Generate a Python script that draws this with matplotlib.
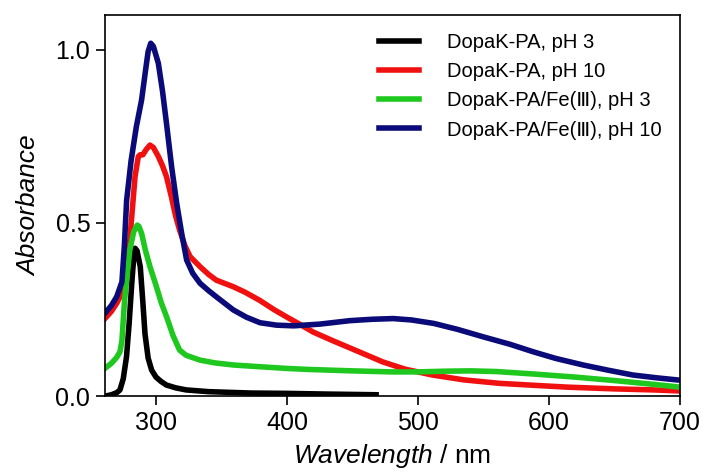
import matplotlib
matplotlib.use("Agg")
import matplotlib.pyplot as plt

plt.rcParams['font.family'] = ['Liberation Sans', 'DejaVu Sans']
plt.rcParams['mathtext.fontset'] = 'custom'
plt.rcParams['mathtext.rm'] = 'Liberation Sans'
plt.rcParams['mathtext.it'] = 'Liberation Sans:italic'

# DopaK-PA, pH 3
wl_k3 = [261, 266, 270, 272.5, 275, 277.5, 279.5, 281.5, 283, 284, 285.5, 288,
         290, 291.6, 294, 296.7, 300, 304, 308, 315, 323, 340, 372, 400, 430,
         450, 468]
abs_k3 = [0.0, 0.004, 0.01, 0.018, 0.05, 0.114, 0.21, 0.326, 0.40, 0.427,
          0.42, 0.374, 0.27, 0.18, 0.11, 0.075, 0.055, 0.042, 0.032, 0.024,
          0.018, 0.013, 0.009, 0.008, 0.006, 0.005, 0.004]

# DopaK-PA, pH 10
wl_k10 = [261, 266, 270, 272.5, 276, 280, 284, 286.5, 288, 290, 292.5, 295.4,
          298, 301.8, 305, 308, 311.8, 315, 318, 322, 326, 333.6, 340, 346,
          359, 368, 379, 390, 400, 410, 420, 435, 455, 473, 490, 511, 535, 562,
          590, 614, 650, 680, 700]
abs_k10 = [0.224, 0.245, 0.268, 0.287, 0.326, 0.45, 0.634, 0.692, 0.697, 0.697,
           0.712, 0.725, 0.718, 0.692, 0.665, 0.634, 0.575, 0.52, 0.48, 0.435,
           0.403, 0.374, 0.352, 0.335, 0.316, 0.3, 0.277, 0.25, 0.228, 0.207,
           0.185, 0.16, 0.128, 0.099, 0.078, 0.061, 0.047, 0.037, 0.031,
           0.026, 0.021, 0.018, 0.015]

# DopaK-PA/Fe(III), pH 3
wl_f3 = [261, 266, 270, 272.5, 274, 276, 280, 283, 285.7, 287, 289, 292,
         295.4, 300, 304, 308, 313, 318, 323, 333.6, 345, 359, 379, 400, 417,
         450, 480, 500, 520, 540, 560, 588, 620, 650, 680, 700]
abs_f3 = [0.08, 0.095, 0.112, 0.128, 0.16, 0.277, 0.422, 0.475, 0.494, 0.49,
          0.47, 0.42, 0.374, 0.32, 0.27, 0.23, 0.175, 0.133, 0.118, 0.104,
          0.096, 0.09, 0.085, 0.08, 0.077, 0.073, 0.07, 0.07, 0.072, 0.073,
          0.071, 0.064, 0.055, 0.045, 0.034, 0.026]

# DopaK-PA/Fe(III), pH 10
wl_f10 = [261, 266, 270, 274, 275.8, 277.6, 281, 285, 289, 292, 294, 296, 298,
          301.8, 305, 308, 312, 315.8, 319.6, 323.4, 328, 333.6, 340, 346, 359,
          369, 379.4, 392, 405, 425, 448, 465, 481, 495, 512, 530, 550, 570,
          588, 605, 626, 645, 664, 682, 700]
abs_f10 = [0.239, 0.262, 0.287, 0.33, 0.43, 0.566, 0.68, 0.778, 0.855, 0.94,
           0.995, 1.019, 1.01, 0.961, 0.88, 0.788, 0.66, 0.557, 0.47, 0.393,
           0.355, 0.326, 0.305, 0.287, 0.249, 0.228, 0.212, 0.205, 0.203,
           0.208, 0.218, 0.222, 0.224, 0.22, 0.21, 0.193, 0.171, 0.15, 0.128,
           0.109, 0.09, 0.075, 0.061, 0.053, 0.046]

labels = ['DopaK-PA, pH 3', 'DopaK-PA, pH 10',
          'DopaK-PA/Fe(Ⅲ), pH 3', 'DopaK-PA/Fe(Ⅲ), pH 10']
colors = ['#000000', '#f01010', '#1ec81e', '#0a0a78']

fig = plt.figure(figsize=(7.04, 4.75), dpi=100)
ax = fig.add_axes([0.149, 0.166, 0.817, 0.802])

series = [(wl_k3, abs_k3), (wl_k10, abs_k10), (wl_f3, abs_f3), (wl_f10, abs_f10)]
for (x, y), lab, c in zip(series, labels, colors):
    ax.plot(x, y, color=c, lw=4, label=lab, solid_joinstyle='round')

ax.set_xlim(261, 700)
ax.set_ylim(0, 1.1)
ax.set_xticks([300, 400, 500, 600, 700])
ax.set_yticks([0.0, 0.5, 1.0])
ax.set_yticklabels(['0.0', '0.5', '1.0'])
ax.tick_params(axis='both', direction='out', length=6.5, width=1.2,
               labelsize=18, top=False, right=False, pad=4)
for s in ax.spines.values():
    s.set_linewidth(1.2)

ax.set_xlabel(r'$\mathit{Wavelength}$ / nm', fontsize=19, labelpad=5)
ax.set_ylabel('Absorbance', fontsize=19, style='italic', labelpad=10)

leg = ax.legend(loc='upper right', frameon=False, fontsize=14.5,
                handlelength=2.0, handletextpad=1.4, labelspacing=0.5,
                bbox_to_anchor=(1.0, 1.0))
for h in leg.get_lines():
    h.set_linewidth(4)

fig.savefig('out.png', dpi=100)
